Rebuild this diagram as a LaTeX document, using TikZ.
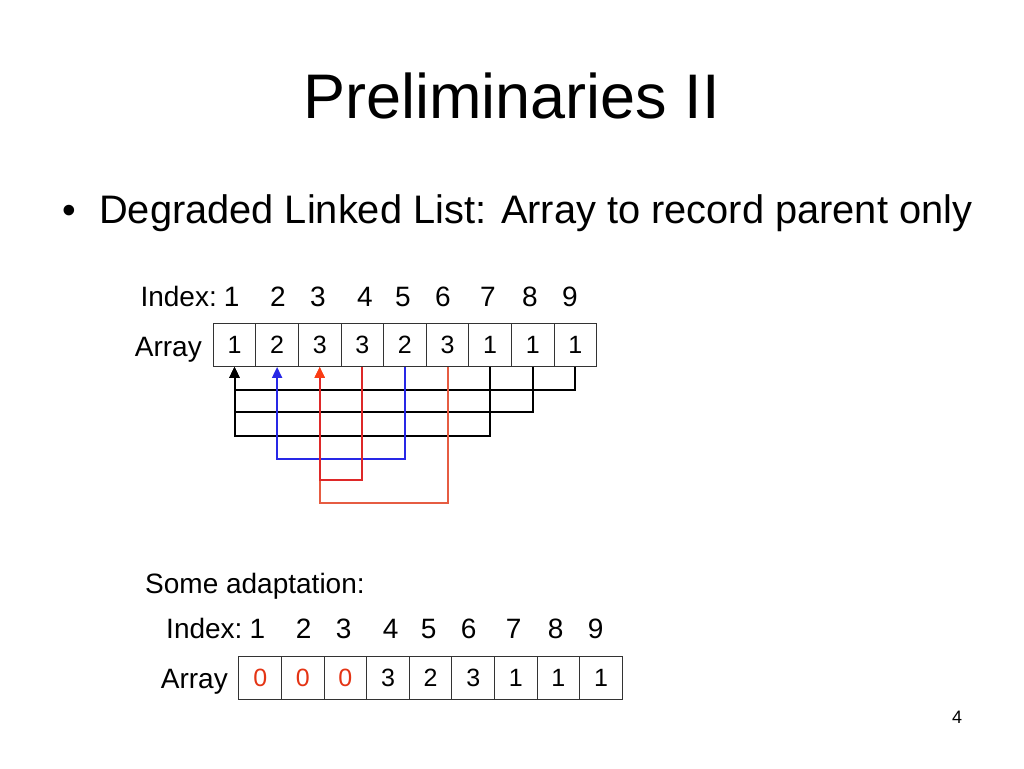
\documentclass[tikz,border=0pt]{standalone}
\usepackage{fontspec}
\setmainfont{Liberation Sans}
\usetikzlibrary{arrows.meta}
\definecolor{linkblue}{RGB}{40,40,230}
\definecolor{linkred}{RGB}{222,40,40}
\definecolor{linksalmon}{RGB}{230,92,66}
\definecolor{tipred}{RGB}{250,60,20}
\definecolor{zerored}{RGB}{228,52,20}

\begin{document}
\begin{tikzpicture}[x=1pt,y=-1pt,
  cell/.style={draw=black!80,line width=0.9pt,minimum width=42.6pt,minimum height=43pt,inner sep=0pt,font=\fontsize{25}{25}\selectfont},
  idx/.style={font=\fontsize{28}{28}\selectfont,inner sep=0pt},
  link/.style={line width=2pt,-{Triangle[length=11pt,width=10pt]}}]
\useasboundingbox (0,0) rectangle (1024,768);

% heading
\node[anchor=base,inner sep=0pt,font=\fontsize{63}{63}\selectfont] (title) at (511.5,118) {Preliminaries II};
\node[anchor=base,inner sep=0pt,font=\fontsize{39}{39}\selectfont] (dot) at (69,223) {\textbullet};
\node[anchor=base west,inner sep=0pt,font=\fontsize{39.8}{39.8}\selectfont] (point) at (99,223) {Degraded Linked List: Array to record parent only};

% parent array
\node[idx,anchor=base east] (idxlabel) at (217,306.7) {Index:};
\foreach \x [count=\i] in {231.7,278,318,365,403,443,488,530,570}
  \node[idx,anchor=base] (i\i) at (\x,306.7) {\i};
\node[idx,anchor=base east] (arraylabel) at (202,356) {Array};
\foreach \v [count=\i] in {1,2,3,3,2,3,1,1,1}
  \node[cell] (c\i) at ({191.9+42.6*\i},345) {\v};

% parent links
\foreach \j/\d in {9/23,8/45,7/69}
  \draw[link] (c\j.south) -- ++(0,\d) -| (c1.south);
\draw[link,linkblue] (c5.south) -- ++(0,92) -| (c2.south);
\draw[link,linksalmon,-{Triangle[length=11pt,width=10pt,color=tipred]}] (c6.south) -- ++(0,136) -| (c3.south);
\draw[link,linkred,-{Triangle[length=11pt,width=10pt,color=tipred]}] (c4.south) -- ++(0,113) -| (c3.south);

% adapted array
\node[idx,anchor=base west] (adapt) at (145,593) {Some adaptation:};
\node[idx,anchor=base east] (idxlabel2) at (242.7,638.3) {Index:};
\foreach \x [count=\i] in {231.7,278,318,365,403,443,488,530,570}
  \node[idx,anchor=base] (j\i) at ({\x+25.7},638.3) {\i};
\node[idx,anchor=base east] (arraylabel2) at (228,688.3) {Array};
\foreach \v/\c [count=\i] in {0/zerored,0/zerored,0/zerored,3/black,2/black,3/black,1/black,1/black,1/black}
  \node[cell,text=\c] (d\i) at ({217.6+42.6*\i},678) {\v};

\node[anchor=base,inner sep=0pt,font=\fontsize{18}{18}\selectfont] (page) at (957,723.3) {4};
\end{tikzpicture}
\end{document}
